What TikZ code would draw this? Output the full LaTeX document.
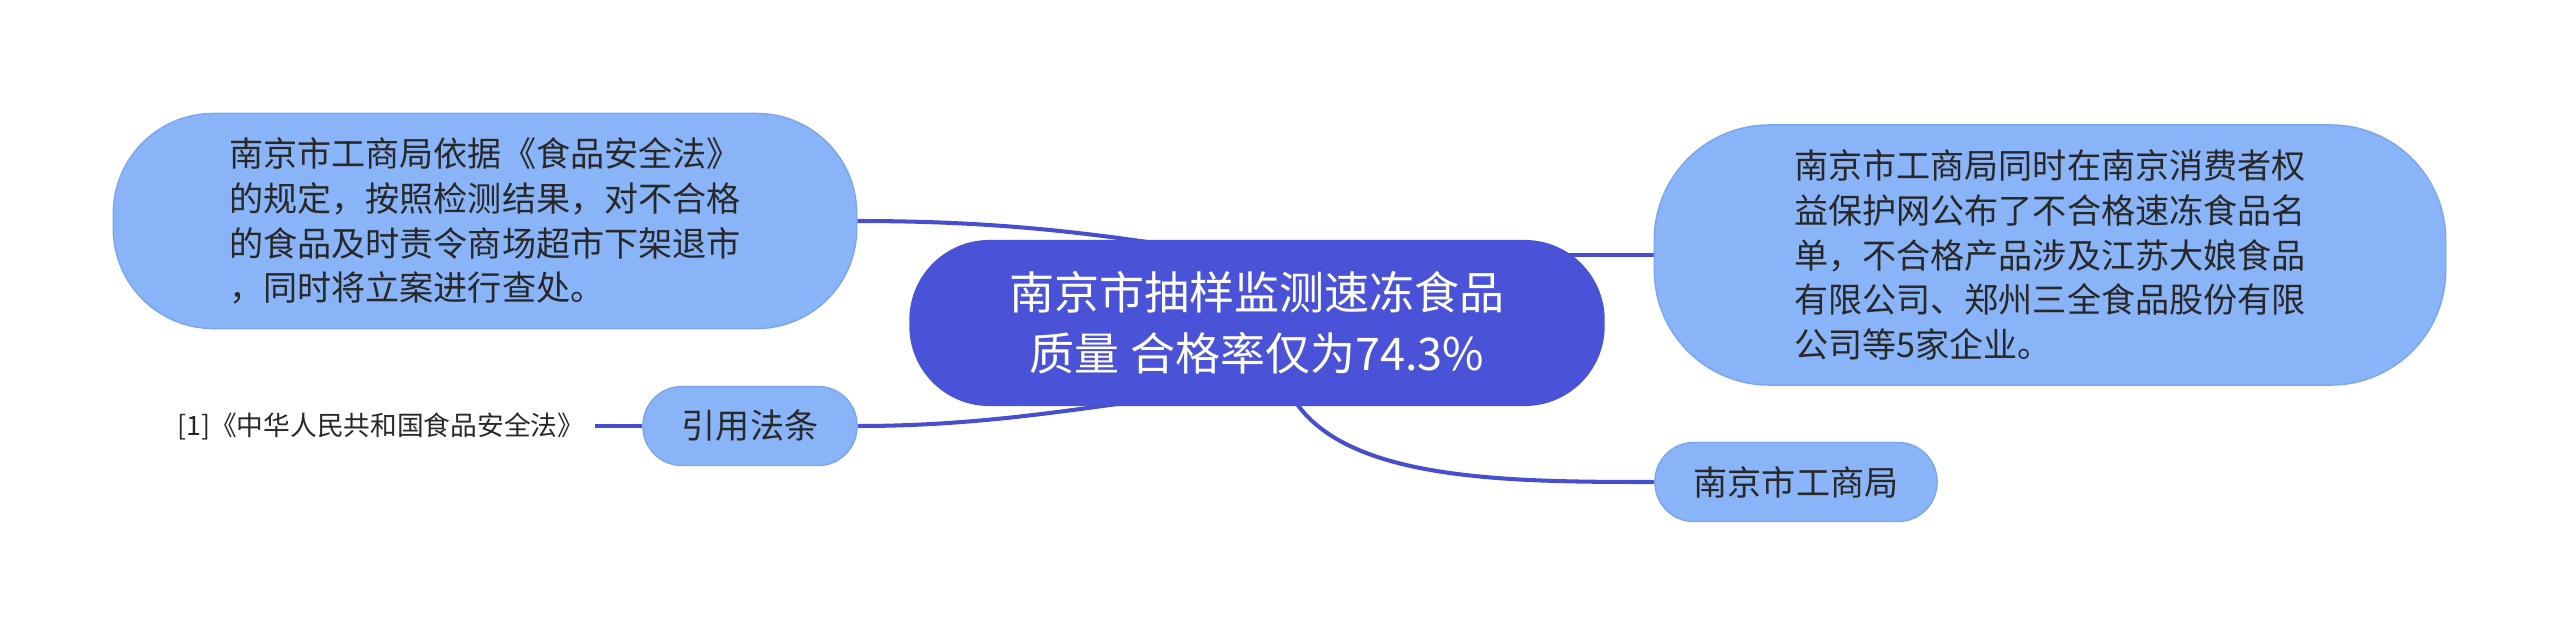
\documentclass[tikz,border=0pt]{standalone}
\usepackage{fontspec}
\newfontfamily\cjk{Noto Sans CJK SC}
\usepackage{xcolor}
\usepackage{tikz}
\usetikzlibrary{backgrounds}

\definecolor{rootblue}{RGB}{74,82,216}
\definecolor{leafblue}{RGB}{138,180,248}
\definecolor{leafedge}{RGB}{122,166,240}
\definecolor{linkblue}{RGB}{72,79,206}
\definecolor{inkgray}{RGB}{40,40,40}

\begin{document}
\begin{tikzpicture}[x=0.01cm, y=-0.01cm,
    rootbox/.style={fill=rootblue, text=white, rounded corners=0.8cm, align=center,
      font=\cjk\fontsize{12.8pt}{17.4pt}\selectfont},
    leafbox/.style={fill=leafblue, draw=leafedge, line width=0.4pt, text=inkgray, align=left,
      font=\cjk\fontsize{9.7pt}{12.7pt}\selectfont},
    link/.style={draw=linkblue, line width=1.15pt}]
  \useasboundingbox (0,0) rectangle (2560,636);
  \node[rootbox, minimum width=6.95cm, minimum height=1.66cm] (Root) at (1257,323)
    {南京市抽样监测速冻食品\\质量 合格率仅为74.3\%};  % Root
  \node[leafbox, rounded corners=1cm, minimum width=7.43cm, minimum height=2.15cm] (Branch-1) at (485,221)
    {南京市工商局依据《食品安全法》\\的规定，按照检测结果，对不合格\\的食品及时责令商场超市下架退市\\，同时将立案进行查处。\hspace*{0.16cm}};  % Left
  \node[leafbox, rounded corners=0.39cm, minimum width=2.14cm, minimum height=0.79cm] (Branch-2) at (750,426)
    {引用法条};  % Citation
  \node[anchor=east, inner sep=0.1cm, text=inkgray, font=\cjk\fontsize{7.6pt}{9pt}\selectfont] (Branch-2-ref) at (595,426)
    {[1]《中华人民共和国食品安全法》};
  \node[leafbox, rounded corners=1.15cm, minimum width=7.91cm, minimum height=2.6cm] (Branch-3) at (2050,255)
    {南京市工商局同时在南京消费者权\\益保护网公布了不合格速冻食品名\\单，不合格产品涉及江苏大娘食品\\有限公司、郑州三全食品股份有限\\公司等5家企业。};  % Right
  \node[leafbox, rounded corners=0.39cm, minimum width=2.82cm, minimum height=0.79cm] (Branch-4) at (1796,482)
    {南京市工商局};  % Bottom right
  \begin{scope}[on background layer]
    \draw[link] (Branch-1.east) .. controls +(150,0) and +(-150,-25) .. ([yshift=-0.2cm]Root.north);  % Connect branches
    \draw[link] (Branch-2.east) .. controls +(150,0) and +(-150,15) .. ([yshift=0.2cm]Root.south);
    \draw[link] (Branch-3.west) -- (Branch-3.west -| Root.center);
    \draw[link] (Branch-4.west) .. controls +(-155,0) and +(43,94) .. ([xshift=0.3cm, yshift=0.2cm]Root.south);
  \end{scope}
  \draw[link] (Branch-2-ref.east) -- (Branch-2.west);  % Reference
\end{tikzpicture}
\end{document}
